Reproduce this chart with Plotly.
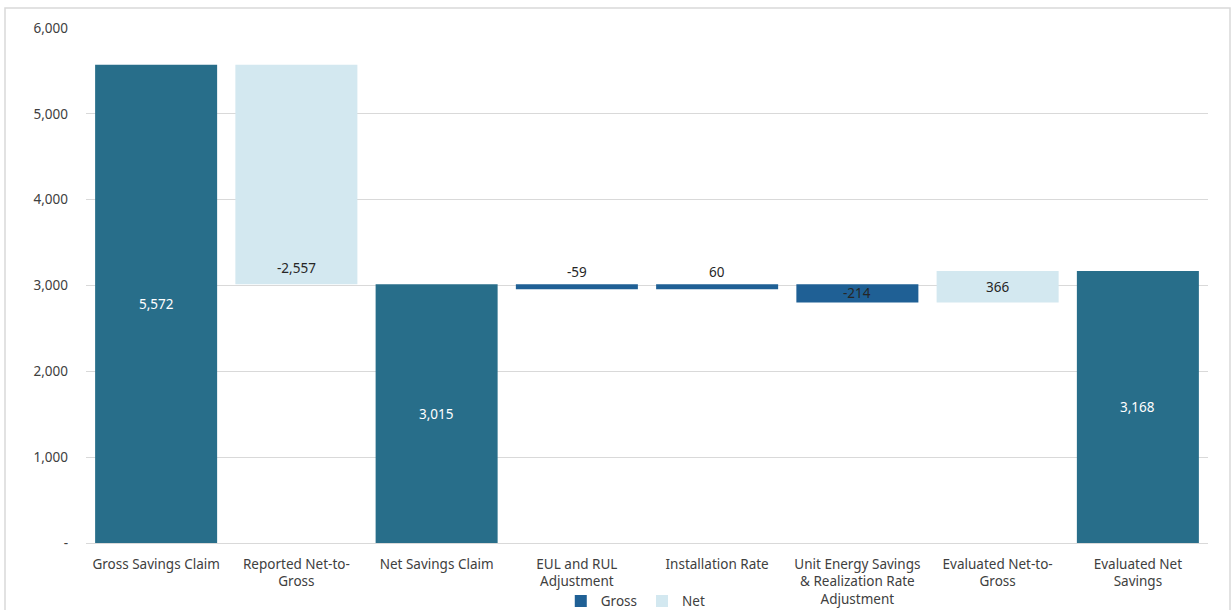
import plotly.graph_objects as go

categories = ["Gross Savings Claim", "Reported Net-to-<br>Gross", "Net Savings Claim",
              "EUL and RUL<br>Adjustment", "Installation Rate",
              "Unit Energy Savings<br>& Realization Rate<br>Adjustment",
              "Evaluated Net-to-<br>Gross", "Evaluated Net<br>Savings"]
values = [5572, -2557, 3015, -59, 60, -214, 366, 3168]
kinds = ["total", "net", "total", "gross", "gross", "gross", "net", "total"]
labels = ["5,572", "-2,557", "3,015", "-59", "60", "-214", "366", "3,168"]
label_pos = ["center", "base", "center", "above", "above", "center", "center", "center"]
y_tickvals = [0, 1000, 2000, 3000, 4000, 5000, 6000]
y_ticktext = ["-", "1,000", "2,000", "3,000", "4,000", "5,000", "6,000"]

TEAL = "#286E8A"
GROSS = "#1F6095"
NET = "#D3E8F0"
FONT = "Noto Sans"
FS = 13.5

# compute floating bar bases / heights
bases, heights = [], []
running = 0
for v, k in zip(values, kinds):
    if k == "total":
        bases.append(0)
        heights.append(v)
        running = v
    else:
        bases.append(min(running, running + v))
        heights.append(abs(v))
        running = running + v

fig = go.Figure()
for name, kind, color, show in [("Total", "total", TEAL, False),
                                 ("Gross", "gross", GROSS, True),
                                 ("Net", "net", NET, True)]:
    xs = [c for c, k in zip(categories, kinds) if k == kind]
    ys = [h for h, k in zip(heights, kinds) if k == kind]
    bs = [b for b, k in zip(bases, kinds) if k == kind]
    fig.add_trace(go.Bar(x=xs, y=ys, base=bs, name=name, marker_color=color,
                         marker_line_width=0, showlegend=show, hoverinfo="skip"))

for c, b, h, k, lab, pos in zip(categories, bases, heights, kinds, labels, label_pos):
    color = "white" if k == "total" else "#262626"
    if pos == "center":
        fig.add_annotation(x=c, y=b + h / 2, text=lab, showarrow=False,
                           font=dict(color=color, size=FS, family=FONT))
    elif pos == "base":
        fig.add_annotation(x=c, y=b, text=lab, showarrow=False, yanchor="bottom", yshift=5,
                           font=dict(color=color, size=FS, family=FONT))
    else:
        fig.add_annotation(x=c, y=b + h, text=lab, showarrow=False, yanchor="bottom", yshift=1,
                           font=dict(color=color, size=FS, family=FONT))

fig.update_layout(
    width=1231, height=610,
    margin=dict(l=86, r=23, t=28, b=67, autoexpand=False),
    paper_bgcolor="white", plot_bgcolor="white",
    barmode="overlay", bargap=0.13,
    font=dict(family=FONT, size=FS, color="#404040"),
    legend=dict(orientation="h", x=0.49, xanchor="center", y=-0.113, yanchor="middle",
                font=dict(size=FS, color="#404040"), itemwidth=30, tracegroupgap=0,
                bgcolor="rgba(0,0,0,0)"),
    xaxis=dict(showgrid=False, showline=False, ticks="", tickangle=0,
               categoryorder="array", categoryarray=categories,
               automargin=False, ticklabelstandoff=11,
               tickfont=dict(size=FS, color="#404040")),
    yaxis=dict(range=[0, 6000], tickvals=y_tickvals, ticktext=y_ticktext,
               showgrid=True, gridcolor="#D9D9D9", gridwidth=1, zeroline=True,
               zerolinecolor="#D9D9D9", zerolinewidth=1, ticks="", ticklabelstandoff=17,
               automargin=False, tickfont=dict(size=FS, color="#404040")),
    shapes=[dict(type="rect", xref="paper", yref="paper",
                 x0=-81 / 1122, x1=1144 / 1122, y0=-100 / 515, y1=(535) / 515,
                 line=dict(color="#D9D9D9", width=1.5), layer="below")],
)

fig.write_html("out.html")
